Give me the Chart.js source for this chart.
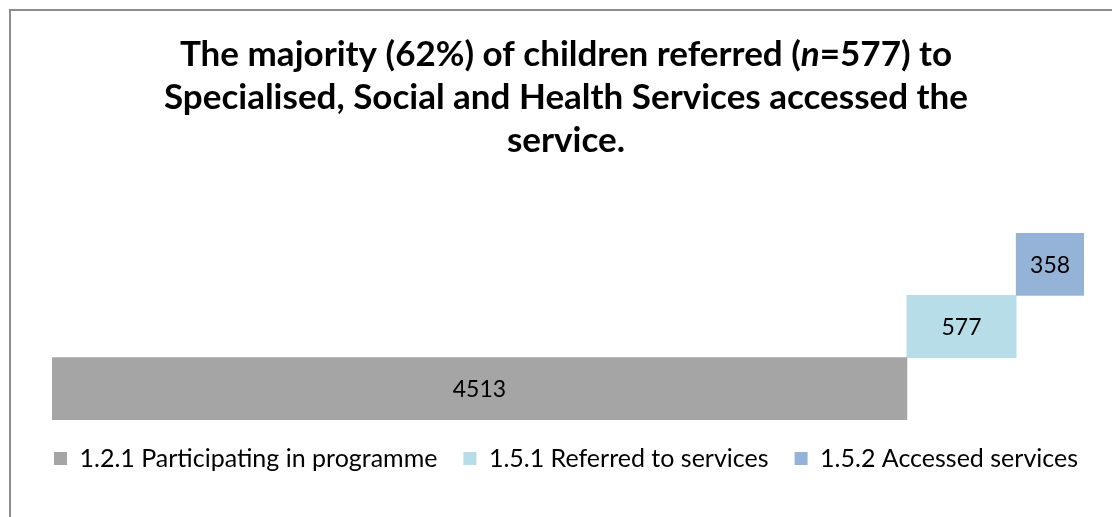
<!DOCTYPE html>
<html>
<head>
<meta charset="utf-8">
<script src="https://cdn.jsdelivr.net/npm/chart.js@4/dist/chart.umd.min.js"></script>
<style>
  html, body { margin: 0; padding: 0; background: #fff; }
  #wrap { position: relative; width: 1112px; height: 517px; overflow: hidden; }
  #frame { position: absolute; left: 9px; top: 9px; width: 1200px; height: 600px; border: 2px solid #8c8c8c; box-sizing: border-box; }
  #myChart { position: absolute; left: 0; top: 0; }
</style>
</head>
<body>
<div id="wrap">
  <div id="frame"></div>
  <canvas id="myChart" width="1112" height="517"></canvas>
</div>
<script>
// data
const series = ['1.2.1 Participating in programme', '1.5.1 Referred to services', '1.5.2 Accessed services'];
const values = [4513, 577, 358];
const colors = ['#a5a5a5', '#b7dee8', '#95b3d7'];
const rows = ['r3', 'r2', 'r1']; // top to bottom

const FONT = 'Lato, "Open Sans", sans-serif';

// each bar starts where the previous one ends
const starts = [];
let acc = 0;
values.forEach(v => { starts.push(acc); acc += v; });

const datasets = series.map((name, i) => {
  const data = rows.map(() => null);
  data[rows.length - 1 - i] = [starts[i], starts[i] + values[i]];
  return {
    label: name,
    data: data,
    backgroundColor: colors[i],
    borderWidth: 0,
    categoryPercentage: 1,
    barPercentage: 1
  };
});

// title with italic n
const titlePlugin = {
  id: 'titleText',
  afterDraw(chart) {
    const ctx = chart.ctx;
    const lines = [
      [['bold ', 'The majority (62%) of children referred ('], ['italic bold ', 'n'], ['bold ', '=577) to']],
      [['bold ', 'Specialised, Social and Health Services accessed the']],
      [['bold ', 'service.']]
    ];
    const cx = 566;
    const ys = [66, 109, 152];
    ctx.save();
    ctx.fillStyle = '#000';
    ctx.textBaseline = 'alphabetic';
    ctx.textAlign = 'left';
    lines.forEach((parts, li) => {
      let w = 0;
      parts.forEach(p => { ctx.font = p[0] + '35px ' + FONT; w += ctx.measureText(p[1]).width; });
      let x = cx - w / 2;
      parts.forEach(p => {
        ctx.font = p[0] + '35px ' + FONT;
        ctx.fillText(p[1], x, ys[li]);
        x += ctx.measureText(p[1]).width;
      });
    });
    ctx.restore();
  }
};

// value labels in the middle of each bar
const labelPlugin = {
  id: 'barLabels',
  afterDatasetsDraw(chart) {
    const ctx = chart.ctx;
    ctx.save();
    ctx.fillStyle = '#000';
    ctx.font = '23px ' + FONT;
    ctx.textAlign = 'center';
    ctx.textBaseline = 'middle';
    chart.data.datasets.forEach((ds, i) => {
      chart.getDatasetMeta(i).data.forEach((bar, j) => {
        if (ds.data[j] == null) return;
        const c = bar.getCenterPoint();
        ctx.fillText(String(values[i]), c.x, c.y + 1);
      });
    });
    ctx.restore();
  }
};

// invisible axes only used to hold the side margins
function blankAxis(pos, w) {
  return {
    type: 'category',
    position: pos,
    stacked: true,
    ticks: { display: false },
    grid: { display: false, drawTicks: false },
    border: { display: false },
    afterFit(scale) { scale.width = w; }
  };
}

const ctx = document.getElementById('myChart').getContext('2d');
const myChart = new Chart(ctx, {
  type: 'bar',
  data: { labels: rows, datasets: datasets },
  options: {
    indexAxis: 'y',
    responsive: false,
    animation: false,
    layout: { padding: { left: 20, right: 0, top: 233, bottom: 36 } },
    scales: {
      x: { min: 0, max: acc, display: false },
      y: blankAxis('left', 32),
      yRight: blankAxis('right', 28)
    },
    plugins: {
      legend: {
        position: 'bottom',
        labels: {
          boxWidth: 13,
          boxHeight: 13,
          padding: 26,
          color: '#000',
          font: { size: 25, family: FONT }
        }
      },
      tooltip: { enabled: false }
    }
  },
  plugins: [titlePlugin, labelPlugin]
});
</script>
</body>
</html>
